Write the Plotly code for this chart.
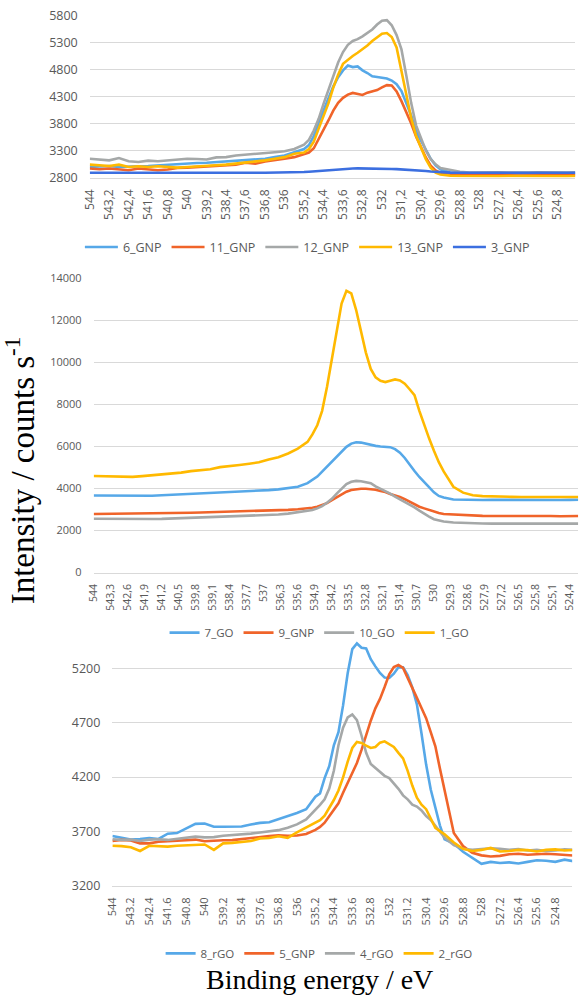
import plotly.graph_objects as go

energy = [544.0, 543.6, 543.2, 542.8, 542.4, 542.0, 541.6, 541.2, 540.8, 540.4, 540.0,
          539.6, 539.2, 538.8, 538.4, 538.0, 537.6, 537.2, 536.8, 536.4, 536.0, 535.6,
          535.2, 535.0, 534.8, 534.6, 534.4, 534.2, 534.0, 533.8, 533.6, 533.4, 533.2,
          533.0, 532.8, 532.6, 532.4, 532.2, 532.0, 531.8, 531.6, 531.4, 531.2, 531.0,
          530.8, 530.6, 530.4, 530.2, 530.0, 529.8, 529.6,
          529.2, 528.8, 528.4, 528.0, 527.6, 527.2, 526.8, 526.4, 526.0, 525.6, 525.2,
          524.8, 524.4, 524.0]

# ---- Panel 1 (GNP) ----
gnp_6 = [2993, 3005, 3011, 2993, 2993, 3005, 3011, 3024, 3024, 3036, 3054, 3066, 3072, 3084, 3096, 3108, 3115, 3130, 3145, 3175, 3205, 3266,
         3326, 3399, 3563, 3811, 4036, 4260, 4484, 4654, 4781, 4872, 4842, 4854, 4781, 4732, 4672, 4660, 4648, 4629, 4593, 4526, 4399, 4175, 3945, 3654, 3478, 3314, 3145, 3024, 2951,
         2890, 2872, 2870, 2872, 2868, 2870, 2872, 2868, 2870, 2872, 2870, 2868, 2872, 2870]
gnp_11 = [2963, 2951, 2963, 2951, 2933, 2963, 2951, 2933, 2945, 2975, 2981, 2993, 3005, 3011, 3024, 3036, 3072, 3054, 3096, 3114, 3145, 3175,
          3230, 3260, 3339, 3502, 3684, 3854, 4036, 4181, 4272, 4333, 4363, 4351, 4327, 4369, 4387, 4417, 4466, 4508, 4502, 4393, 4211, 4011, 3799, 3557, 3357, 3169, 3018, 2927, 2884,
          2866, 2842, 2838, 2840, 2835, 2842, 2838, 2836, 2840, 2842, 2838, 2840, 2845, 2842]
gnp_12 = [3145, 3130, 3115, 3157, 3100, 3084, 3110, 3100, 3115, 3130, 3145, 3140, 3130, 3170, 3175, 3205, 3218, 3236, 3254, 3266, 3284, 3326,
          3405, 3496, 3666, 3884, 4160, 4420, 4678, 4926, 5120, 5254, 5326, 5360, 5411, 5472, 5538, 5629, 5702, 5710, 5617, 5435, 5169, 4684, 4175, 3763, 3533, 3300, 3139, 3042, 2975,
          2933, 2903, 2890, 2895, 2890, 2893, 2888, 2895, 2890, 2892, 2888, 2893, 2890, 2895]
gnp_13 = [3036, 3024, 3011, 3036, 2993, 3005, 2993, 3005, 2993, 2981, 2993, 2999, 3011, 3024, 3036, 3054, 3072, 3084, 3115, 3145, 3175, 3236,
          3260, 3326, 3460, 3702, 3945, 4169, 4460, 4702, 4902, 4981, 5048, 5108, 5175, 5241, 5326, 5399, 5460, 5472, 5399, 5205, 4751, 4296, 3896, 3569, 3357, 3139, 2981, 2890, 2854,
          2830, 2825, 2822, 2825, 2820, 2822, 2825, 2822, 2820, 2822, 2825, 2822, 2820, 2825]
gnp_3 = [2885, 2884, 2885, 2886, 2885, 2884, 2885, 2885, 2886, 2885, 2885, 2884, 2885, 2886, 2885, 2885, 2892, 2886, 2885, 2886, 2888, 2890,
         2900, 2905, 2912, 2920, 2928, 2937, 2945, 2950, 2955, 2960, 2963, 2966, 2966, 2964, 2962, 2960, 2960, 2958, 2956, 2952, 2948, 2944, 2938, 2932, 2925, 2918, 2910, 2902, 2895,
         2888, 2886, 2885, 2886, 2885, 2887, 2885, 2886, 2885, 2886, 2887, 2885, 2886, 2885]

# ---- Panel 2 (GO) ----
go_7 = [3670, 3665, 3660, 3660, 3640, 3650, 3655, 3680, 3700, 3710, 3740, 3760, 3780, 3800, 3820, 3845, 3860, 3890, 3925, 3960, 4007, 4085,
        4256, 4412, 4568, 4802, 5036, 5269, 5519, 5753, 5986, 6142, 6205, 6189, 6127, 6096, 6033, 6002, 5986, 5971, 5877, 5706, 5456, 5129, 4833, 4552, 4303, 4069, 3819, 3648, 3570,
        3480, 3465, 3460, 3455, 3460, 3455, 3450, 3455, 3450, 3455, 3460, 3455, 3460, 3465]
gnp_9 = [2790, 2795, 2790, 2790, 2800, 2805, 2800, 2810, 2825, 2830, 2845, 2860, 2870, 2880, 2895, 2905, 2915, 2925, 2940, 2960, 2985, 3010,
         3040, 3087, 3134, 3227, 3305, 3445, 3586, 3726, 3851, 3929, 3975, 3991, 3991, 3975, 3944, 3882, 3835, 3742, 3680, 3601, 3492, 3367, 3258, 3134, 3056, 2978, 2915, 2837, 2791,
         2760, 2728, 2713, 2700, 2695, 2700, 2690, 2695, 2690, 2690, 2695, 2680, 2690, 2690]
go_10 = [2560, 2555, 2550, 2530, 2540, 2545, 2550, 2555, 2570, 2590, 2600, 2620, 2640, 2660, 2675, 2690, 2700, 2720, 2740, 2760, 2806, 2869,
         2931, 2978, 3056, 3165, 3321, 3508, 3757, 3991, 4210, 4319, 4365, 4350, 4303, 4256, 4100, 3991, 3882, 3757, 3617, 3492, 3352, 3227, 3102, 2946, 2791, 2666, 2541, 2479, 2432,
         2380, 2355, 2340, 2335, 2330, 2335, 2330, 2335, 2330, 2330, 2335, 2330, 2330, 2330]
go_1 = [4600, 4590, 4590, 4560, 4555, 4590, 4630, 4690, 4720, 4760, 4830, 4860, 4920, 5020, 5060, 5120, 5180, 5250, 5380, 5490, 5670, 5900,
        6220, 6579, 7015, 7701, 8839, 10133, 11568, 12815, 13420, 13300, 12503, 11490, 10476, 9697, 9292, 9136, 9073, 9136, 9198, 9151, 8995, 8730, 8450, 7701, 7000, 6392, 5799, 5254, 4817,
        4085, 3804, 3680, 3640, 3620, 3610, 3605, 3600, 3600, 3605, 3600, 3595, 3600, 3600]

# ---- Panel 3 (rGO) ----
rgo_8 = [3658, 3640, 3625, 3631, 3640, 3631, 3679, 3685, 3724, 3770, 3773, 3743, 3743, 3746, 3746, 3764, 3779, 3785, 3812, 3839, 3870, 3905,
         4020, 4050, 4191, 4300, 4493, 4613, 4860, 5155, 5378, 5430, 5390, 5384, 5285, 5219, 5158, 5116, 5113, 5152, 5210, 5210, 5140, 5026, 4869, 4601, 4315, 4086, 3911, 3754, 3628,
         3589, 3513, 3460, 3402, 3420, 3410, 3415, 3405, 3420, 3435, 3430, 3420, 3440, 3425]
gnp_5 = [3613, 3622, 3616, 3590, 3590, 3605, 3610, 3615, 3625, 3625, 3610, 3616, 3619, 3620, 3630, 3640, 3655, 3658, 3665, 3660, 3662, 3676,
         3715, 3742, 3781, 3842, 3896, 3959, 4056, 4143, 4239, 4330, 4450, 4590, 4719, 4833, 4920, 5029, 5146, 5213, 5231, 5204, 5116, 5029, 4929, 4836, 4743, 4613, 4484, 4276, 4089,
         3685, 3565, 3504, 3480, 3470, 3475, 3490, 3495, 3485, 3490, 3495, 3490, 3485, 3478]
rgo_4 = [3628, 3622, 3625, 3612, 3625, 3628, 3622, 3632, 3640, 3652, 3645, 3648, 3660, 3665, 3672, 3680, 3690, 3700, 3712, 3735, 3765, 3810,
         3896, 3944, 3995, 4095, 4258, 4493, 4655, 4749, 4776, 4725, 4583, 4423, 4321, 4282, 4242, 4212, 4191, 4146, 4092, 4032, 3995, 3947, 3929, 3893, 3842, 3806, 3748, 3694, 3643,
         3574, 3540, 3530, 3535, 3545, 3540, 3530, 3538, 3525, 3530, 3520, 3525, 3535, 3530]
rgo_2 = [3568, 3565, 3555, 3520, 3568, 3565, 3560, 3568, 3570, 3578, 3580, 3530, 3590, 3595, 3602, 3612, 3636, 3640, 3655, 3640, 3691, 3733,
         3781, 3803, 3845, 3914, 3989, 4077, 4197, 4342, 4468, 4523, 4514, 4490, 4468, 4477, 4517, 4529, 4499, 4477, 4423, 4372, 4258, 4122, 4011, 3947, 3905, 3815, 3733, 3703, 3673,
         3598, 3540, 3520, 3530, 3548, 3515, 3520, 3530, 3528, 3515, 3530, 3535, 3525, 3530]

# Tick labels
p1_tickvals = [544, 543.2, 542.4, 541.6, 540.8, 540, 539.2, 538.4, 537.6, 536.8, 536, 535.2, 534.4,
               533.6, 532.8, 532, 531.2, 530.4, 529.6, 528.8, 528, 527.2, 526.4, 525.6, 524.8]
p1_ticktext = ["544", "543,2", "542,4", "541,6", "540,8", "540", "539,2", "538,4", "537,6", "536,8",
               "536", "535,2", "534,4", "533,6", "532,8", "532", "531,2", "530,4", "529,6", "528,8",
               "528", "527,2", "526,4", "525,6", "524,8"]
p2_tickvals = [544, 543.3, 542.6, 541.9, 541.2, 540.5, 539.8, 539.1, 538.4, 537.7, 537, 536.3, 535.6,
               534.9, 534.2, 533.5, 532.8, 532.1, 531.4, 530.7, 530, 529.3, 528.6, 527.9, 527.2,
               526.5, 525.8, 525.1, 524.4]
p2_ticktext = ["544", "543,3", "542,6", "541,9", "541,2", "540,5", "539,8", "539,1", "538,4", "537,7",
               "537", "536,3", "535,6", "534,9", "534,2", "533,5", "532,8", "532,1", "531,4", "530,7",
               "530", "529,3", "528,6", "527,9", "527,2", "526,5", "525,8", "525,1", "524,4"]
p3_tickvals = p1_tickvals
p3_ticktext = ["544", "543.2", "542.4", "541.6", "540.8", "540", "539.2", "538.4", "537.6", "536.8",
               "536", "535.2", "534.4", "533.6", "532.8", "532", "531.2", "530.4", "529.6", "528.8",
               "528", "527.2", "526.4", "525.6", "524.8"]
p1_yticks = [2800, 3300, 3800, 4300, 4800, 5300, 5800]
p2_yticks = [0, 2000, 4000, 6000, 8000, 10000, 12000, 14000]
p3_yticks = [3200, 3700, 4200, 4700, 5200]

C_LB = "#56A8E8"
C_OR = "#F0642A"
C_GR = "#A5A8A8"
C_YE = "#FFB900"
C_DB = "#3C6FE0"

panel1 = [("6_GNP", gnp_6, C_LB), ("11_GNP", gnp_11, C_OR), ("12_GNP", gnp_12, C_GR),
          ("13_GNP", gnp_13, C_YE), ("3_GNP", gnp_3, C_DB)]
panel2 = [("7_GO", go_7, C_LB), ("9_GNP", gnp_9, C_OR), ("10_GO", go_10, C_GR), ("1_GO", go_1, C_YE)]
panel3 = [("8_rGO", rgo_8, C_LB), ("5_GNP", gnp_5, C_OR), ("4_rGO", rgo_4, C_GR), ("2_rGO", rgo_2, C_YE)]

W, H = 582, 1000
fig = go.Figure()

for panel, ax, leg in [(panel1, ("x", "y"), "legend"),
                       (panel2, ("x2", "y2"), "legend2"),
                       (panel3, ("x3", "y3"), "legend3")]:
    for name, vals, col in panel:
        fig.add_trace(go.Scatter(x=energy, y=vals, mode="lines", name=name,
                                 line=dict(color=col, width=2.6),
                                 xaxis=ax[0], yaxis=ax[1], legend=leg))

TICKC = "#595959"
GRID = "#D9D9D9"
FONT = "Open Sans"


def px_x(a, b):
    return [a / W, b / W]


def px_y(top, bottom):
    return [1 - bottom / H, 1 - top / H]


def xax(dom, anchor, tv, tt, size):
    return dict(domain=dom, anchor=anchor, range=[544, 524.07], tickmode="array",
                tickvals=tv, ticktext=tt, tickangle=-90, showgrid=False, zeroline=False,
                showline=True, linecolor=GRID, linewidth=1, ticks="",
                ticklabelstandoff=6,
                tickfont=dict(family=FONT, size=size, color=TICKC))


def yax(dom, anchor, rng, tv, size):
    pad = (rng[1] - rng[0]) * 0.001
    return dict(domain=dom, anchor=anchor, range=[rng[0] - pad, rng[1] + pad],
                tickmode="array", tickvals=tv, ticktext=[str(v) for v in tv],
                showgrid=True, gridcolor=GRID, gridwidth=1, zeroline=False,
                showline=False, ticks="", ticklabelstandoff=11,
                tickfont=dict(family=FONT, size=size, color=TICKC))


def legend(xpx, ypx, size, iw=30):
    return dict(orientation="h", x=xpx / W, y=1 - ypx / H, xanchor="left", yanchor="top",
                itemwidth=iw,
                font=dict(family=FONT, size=size, color=TICKC), bgcolor="rgba(0,0,0,0)")


fig.update_layout(
    width=W, height=H, margin=dict(l=0, r=0, t=0, b=0),
    plot_bgcolor="white", paper_bgcolor="white",
    xaxis=xax(px_x(82, 575), "y", p1_tickvals, p1_ticktext, 12),
    yaxis=yax(px_y(7.3, 172.3), "x", [2800, 5800], p1_yticks, 12.5),
    xaxis2=xax(px_x(86, 578), "y2", p2_tickvals, p2_ticktext, 10.5),
    yaxis2=yax(px_y(274.7, 574), "x2", [0, 14000], p2_yticks, 11),
    xaxis3=xax(px_x(105, 572), "y3", p3_tickvals, p3_ticktext, 11),
    yaxis3=yax(px_y(640, 892.3), "x3", [3200, 5480], p3_yticks, 12.5),
    legend=legend(72, 228, 12.5, 33),
    legend2=legend(158, 620, 11.5),
    legend3=legend(154, 946, 11.5),
    showlegend=True,
)

fig.add_annotation(text="Intensity / counts s<sup>-1</sup>", xref="paper", yref="paper",
                   x=12 / W, y=1 - 470 / H, xanchor="center", yanchor="middle",
                   textangle=-90, showarrow=False,
                   font=dict(family="Liberation Serif", size=33, color="black"))
fig.add_annotation(text="Binding energy / eV", xref="paper", yref="paper",
                   x=315 / W, y=1 - 987 / H, xanchor="center", yanchor="middle",
                   showarrow=False,
                   font=dict(family="Liberation Serif", size=28, color="black"))

fig.write_html("out.html", config={"displayModeBar": False},
               post_script="document.body.style.margin='0px';"
                           "document.documentElement.style.overflow='hidden';"
                           "document.body.style.overflow='hidden';")
